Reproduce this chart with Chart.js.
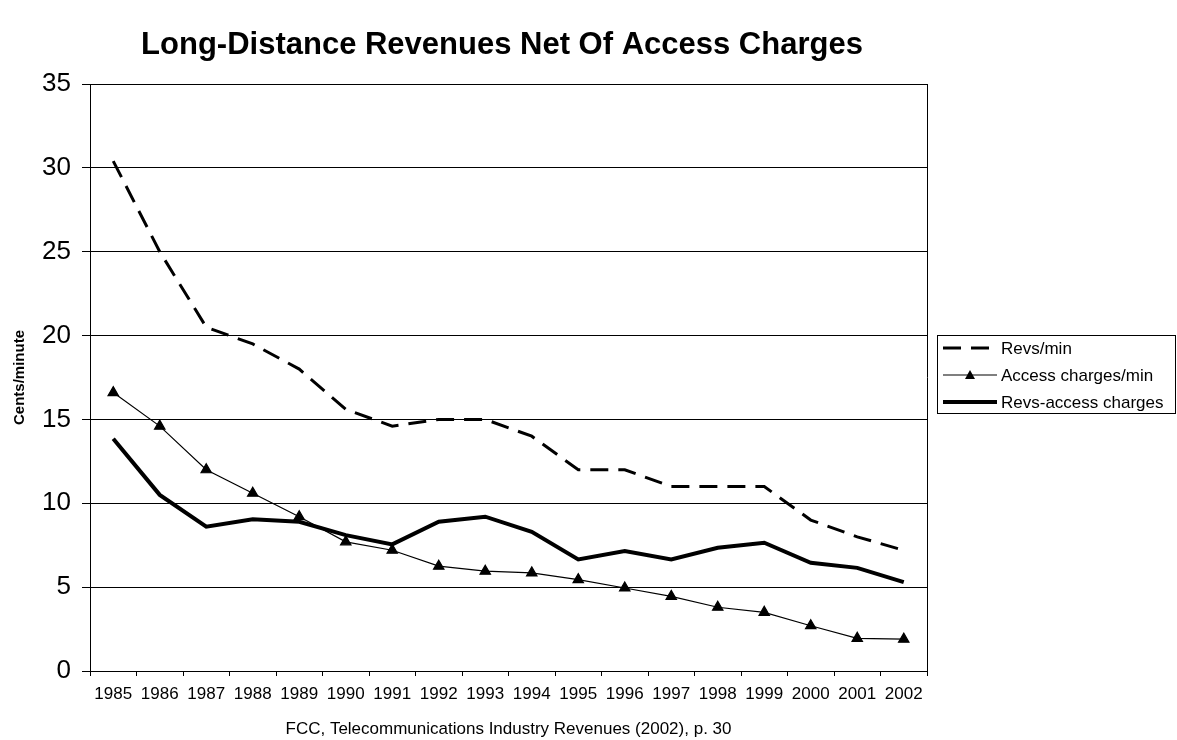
<!DOCTYPE html>
<html>
<head>
<meta charset="utf-8">
<script src="https://cdn.jsdelivr.net/npm/chart.js@4/dist/chart.umd.min.js"></script>
<style>
  body { margin: 0; background: #fff; }
  canvas { display: block; }
</style>
</head>
<body>
<canvas id="chart" width="1177" height="740"></canvas>
<script>
const years = ["1985", "1986", "1987", "1988", "1989", "1990", "1991", "1992", "1993",
  "1994", "1995", "1996", "1997", "1998", "1999", "2000", "2001", "2002"];
const revsPerMin = [30.4, 25.0, 20.5, 19.5, 18.0, 15.6, 14.6, 15.0, 15.0,
  14.0, 12.0, 12.0, 11.0, 11.0, 11.0, 9.0, 8.0, 7.2];
const accessPerMin = [16.6, 14.6, 12.0, 10.6, 9.2, 7.7, 7.2, 6.25, 5.95,
  5.85, 5.45, 4.95, 4.45, 3.8, 3.5, 2.7, 1.95, 1.9];
const revsMinusAccess = [13.85, 10.5, 8.6, 9.05, 8.9, 8.1, 7.55, 8.9, 9.2,
  8.3, 6.65, 7.15, 6.65, 7.35, 7.65, 6.45, 6.15, 5.3];

const chartTitle = "Long-Distance Revenues Net Of Access Charges";
const font = "'Liberation Sans', Arial, sans-serif";

// title, right border of the plot and the boxed legend
const extras = {
  id: "extras",
  afterDraw(chart) {
    const ctx = chart.ctx;
    const area = chart.chartArea;
    ctx.save();
    ctx.fillStyle = "#000";
    ctx.font = "bold 31px " + font;
    ctx.textAlign = "center";
    ctx.textBaseline = "middle";
    ctx.fillText(chartTitle, 502, 45);

    ctx.strokeStyle = "#000";
    ctx.lineWidth = 1;
    ctx.beginPath();
    ctx.moveTo(area.right + 0.5, area.top);
    ctx.lineTo(area.right + 0.5, area.bottom);
    ctx.stroke();

    // legend
    const bx = 937.5, by = 335.5, bw = 238, bh = 78;
    ctx.fillStyle = "#fff";
    ctx.fillRect(bx, by, bw, bh);
    ctx.strokeRect(bx, by, bw, bh);
    ctx.font = "17px " + font;
    ctx.textAlign = "left";
    chart.data.datasets.forEach((ds, i) => {
      const y = 348 + i * 27;
      ctx.strokeStyle = "#000";
      ctx.lineWidth = ds.borderWidth;
      ctx.setLineDash(ds.borderDash || []);
      ctx.beginPath();
      ctx.moveTo(943, y);
      ctx.lineTo(997, y);
      ctx.stroke();
      ctx.setLineDash([]);
      if (ds.pointRadius > 0) {
        ctx.fillStyle = "#000";
        ctx.beginPath();
        ctx.moveTo(970, y - 5);
        ctx.lineTo(975, y + 4);
        ctx.lineTo(965, y + 4);
        ctx.closePath();
        ctx.fill();
      }
      ctx.fillStyle = "#000";
      ctx.fillText(ds.label, 1001, y + 1);
    });
    ctx.restore();
  }
};

new Chart(document.getElementById("chart"), {
  type: "line",
  data: {
    labels: years,
    datasets: [
      {
        label: "Revs/min",
        data: revsPerMin,
        borderColor: "#000",
        borderWidth: 3,
        borderDash: [18, 10],
        pointRadius: 0,
        tension: 0
      },
      {
        label: "Access charges/min",
        data: accessPerMin,
        borderColor: "#000",
        borderWidth: 1.2,
        pointStyle: "triangle",
        pointRadius: 6,
        pointBackgroundColor: "#000",
        pointBorderColor: "#000",
        tension: 0
      },
      {
        label: "Revs-access charges",
        data: revsMinusAccess,
        borderColor: "#000",
        borderWidth: 4,
        pointRadius: 0,
        tension: 0
      }
    ]
  },
  options: {
    responsive: false,
    animation: false,
    devicePixelRatio: 1,
    layout: { padding: { top: 84, right: 250, left: 0, bottom: 0 } },
    plugins: {
      legend: { display: false },
      title: { display: false },
      tooltip: { enabled: false }
    },
    scales: {
      x: {
        offset: true,
        grid: { offset: true, drawOnChartArea: false, tickLength: 5, color: "#000" },
        border: { color: "#000" },
        ticks: { color: "#000", font: { family: font, size: 17 }, maxRotation: 0, autoSkip: false, padding: 8 },
        title: {
          display: true,
          text: "FCC, Telecommunications Industry Revenues (2002), p. 30",
          color: "#000",
          font: { family: font, size: 17 },
          padding: { top: 0, bottom: 0 }
        },
        afterFit(scale) { scale.height = 69; }
      },
      y: {
        min: 0,
        max: 35,
        ticks: { stepSize: 5, color: "#000", font: { family: font, size: 26 }, padding: 11 },
        grid: { color: "#000", tickLength: 8 },
        border: { color: "#000" },
        title: {
          display: true,
          text: "Cents/minute",
          color: "#000",
          font: { family: font, size: 15, weight: "bold" },
          padding: { top: 11, bottom: 0 }
        },
        afterFit(scale) { scale.width = 90; }
      }
    }
  },
  plugins: [extras]
});
</script>
</body>
</html>
